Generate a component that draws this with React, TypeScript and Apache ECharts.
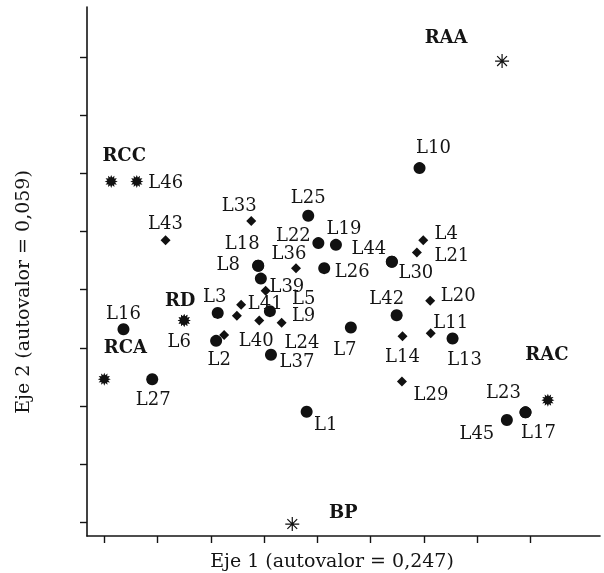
import React, { useEffect, useRef } from "react";
import * as echarts from "echarts";

// Values in axis units (one unit = one tick step)
const circleNames = ["L1", "L2", "L3", "L7", "L8", "L18", "L10", "L13", "L16", "L17", "L23", "L19", "L22", "L25", "L26", "L27", "L30", "L44", "L37", "L39", "L24", "L42", "L45"];
const circleX = [3.80, 2.10, 2.13, 4.63, 2.89, 2.89, 5.92, 6.54, 0.36, 7.91, 7.91, 4.35, 4.02, 3.83, 4.13, 0.90, 5.40, 5.40, 3.13, 2.94, 3.11, 5.49, 7.56];
const circleY = [1.90, 3.12, 3.60, 3.35, 4.41, 4.41, 6.09, 3.16, 3.32, 1.89, 1.89, 4.77, 4.80, 5.27, 4.37, 2.46, 4.48, 4.48, 2.88, 4.19, 3.63, 3.56, 1.76];

const diamondNames = ["L4", "L21", "L20", "L11", "L14", "L29", "L33", "L36", "L43", "L5", "L41", "L9", "L40", "", ""];
const diamondX = [5.99, 5.87, 6.12, 6.13, 5.60, 5.59, 2.76, 3.60, 1.15, 3.03, 2.57, 3.33, 2.91, 2.49, 2.25];
const diamondY = [4.85, 4.64, 3.81, 3.25, 3.20, 2.42, 5.18, 4.37, 4.85, 3.98, 3.74, 3.43, 3.47, 3.55, 3.22];

const burstNames = ["RCC", "L46", "RCA", "RAC", "RD", "L6"];
const burstX = [0.13, 0.61, 0.00, 8.33, 1.50, 1.50];
const burstY = [5.86, 5.86, 2.46, 2.10, 3.47, 3.47];

const asteriskNames = ["RAA", "BP"];
const asteriskX = [7.47, 3.53];
const asteriskY = [7.93, -0.03];

const xTitle = "Eje 1 (autovalor = 0,247)";
const yTitle = "Eje 2 (autovalor = 0,059)";

const boldNames = ["RAA", "RCC", "RCA", "RAC", "RD", "BP"];

// label placement (pixel offsets from the marker centre)
const labelOffsets: Record<string, [number, number]> = {
  RAA: [-56, -25], RCC: [13, -27], L46: [29, 0], RCA: [21, -33], RAC: [-1, -47],
  RD: [-4, -21], L6: [-5, 20], BP: [51, -13],
  L1: [19, 12], L2: [3, 18], L3: [-3, -17], L7: [-6, 21], L8: [-30, -2], L18: [-16, -23],
  L10: [14, -22], L13: [12, 20], L16: [0, -17], L17: [13, 19], L23: [-22, -21], L45: [-30, 13],
  L19: [8, -17], L22: [-25, -9], L25: [0, -19], L26: [28, 2], L27: [1, 19], L30: [24, 10],
  L44: [-23, -14], L37: [26, 6], L39: [26, 7], L24: [32, 30], L42: [-10, -18],
  L4: [23, -8], L21: [35, 2], L20: [28, -6], L11: [20, -12], L14: [0, 19], L29: [29, 12],
  L33: [-12, -17], L36: [-7, -16], L43: [0, -18], L5: [38, 7], L41: [24, -2], L40: [-3, 19], L9: [22, -8],
};

const FONT = "'DejaVu Serif', 'Liberation Serif', serif";
const INK = "#141414";

function burstPath(): string {
  const n = 12;
  const pts: string[] = [];
  for (let i = 0; i < n * 2; i++) {
    const r = i % 2 === 0 ? 1 : 0.62;
    const a = (Math.PI * i) / n - Math.PI / 2;
    pts.push(`${(r * Math.cos(a)).toFixed(3)},${(r * Math.sin(a)).toFixed(3)}`);
  }
  return "path://M" + pts.join("L") + "Z";
}
const asteriskPath = "path://M0,-1L0,1M-1,0L1,0M-0.7,-0.7L0.7,0.7M-0.7,0.7L0.7,-0.7";

function buildData(names: string[], xs: number[], ys: number[]) {
  return names.map((name, i) => {
    const off = labelOffsets[name];
    return {
      name,
      value: [xs[i], ys[i]],
      label: off
        ? {
            show: true,
            position: "inside",
            offset: off,
            formatter: name,
            fontWeight: boldNames.includes(name) ? "bold" : "normal",
          }
        : { show: false },
    };
  });
}

export default function App() {
  const ref = useRef<HTMLDivElement>(null);
  useEffect(() => {
    if (!ref.current) return;
    const chart = echarts.init(ref.current, undefined, { renderer: "svg" });
    const labelBase = {
      color: INK,
      fontFamily: FONT,
      fontSize: 18,
      align: "center",
      verticalAlign: "middle",
    };
    const common = {
      type: "scatter",
      xAxisIndex: 1,
      yAxisIndex: 1,
      clip: false,
      label: labelBase,
      emphasis: { disabled: true },
      z: 3,
    };
    const hiddenAxis = {
      splitLine: { show: false },
      axisLabel: { show: false },
      axisTick: { show: false },
    };
    const tickAxis = {
      type: "value",
      min: 0,
      max: 8,
      interval: 1,
      splitLine: { show: false },
      axisLabel: { show: false },
      axisLine: { show: false, onZero: false },
      axisTick: { show: true, length: 7, lineStyle: { color: INK, width: 1.4 } },
    };
    chart.setOption({
      animation: false,
      grid: [
        { left: 87, right: 4, top: 7, bottom: 37 },
        { left: 104.3, right: 73.7, top: 57, bottom: 50.7 },
      ],
      xAxis: [
        { gridIndex: 0, type: "value", min: 0, max: 1, ...hiddenAxis, axisLine: { show: true, onZero: false, lineStyle: { color: INK, width: 1.6 } } },
        { gridIndex: 1, position: "bottom", offset: 13.7, ...tickAxis },
      ],
      yAxis: [
        { gridIndex: 0, type: "value", min: 0, max: 1, ...hiddenAxis, axisLine: { show: true, onZero: false, lineStyle: { color: INK, width: 1.6 } } },
        { gridIndex: 1, position: "left", offset: 17.3, ...tickAxis },
      ],
      graphic: [
        {
          type: "text", x: 332, y: 560,
          style: { text: xTitle, fill: INK, font: `19px ${FONT}`, align: "center", verticalAlign: "middle" },
        },
        {
          type: "text", x: 22, y: 292, rotation: Math.PI / 2,
          style: { text: yTitle, fill: INK, font: `19px ${FONT}`, align: "center", verticalAlign: "middle" },
        },
      ],
      series: [
        { ...common, name: "circles", symbol: "circle", symbolSize: 12, itemStyle: { color: "#111", opacity: 1 }, data: buildData(circleNames, circleX, circleY) },
        { ...common, name: "diamonds", symbol: "diamond", symbolSize: 10, itemStyle: { color: "#111", opacity: 1 }, data: buildData(diamondNames, diamondX, diamondY) },
        { ...common, name: "bursts", symbol: burstPath(), symbolSize: 13, itemStyle: { color: "#111", opacity: 1 }, data: buildData(burstNames, burstX, burstY) },
        {
          ...common, name: "asterisks", symbol: asteriskPath, symbolSize: 14,
          itemStyle: { color: "rgba(0,0,0,0)", borderColor: "#111", borderWidth: 1.2, opacity: 1 },
          data: buildData(asteriskNames, asteriskX, asteriskY),
        },
      ],
    });
    return () => chart.dispose();
  }, []);
  return <div ref={ref} style={{ position: "fixed", left: 0, top: 0, width: 604, height: 573 }} />;
}
